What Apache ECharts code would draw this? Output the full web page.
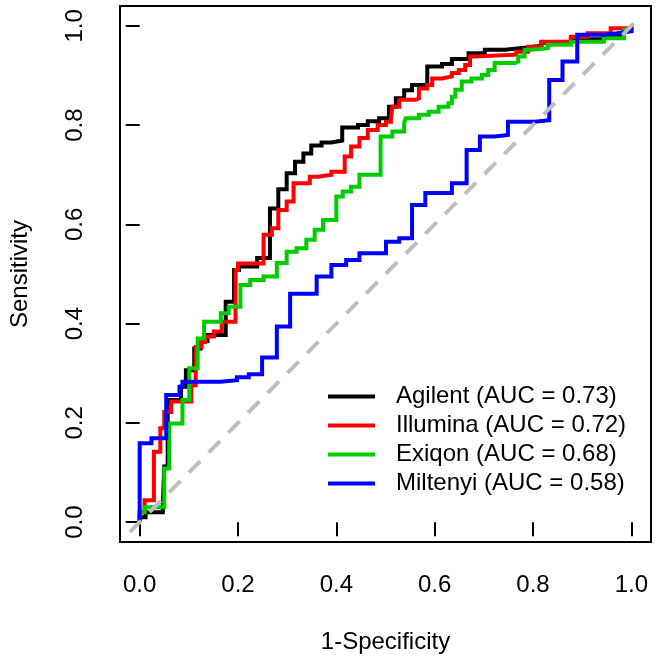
<!DOCTYPE html>
<html>
<head>
<meta charset="utf-8">
<script src="https://cdn.jsdelivr.net/npm/echarts@6/dist/echarts.min.js"></script>
<style>html,body{margin:0;padding:0;background:#fff}#c{width:658px;height:664px}</style>
</head>
<body>
<div id="c"></div>
<script>
// Tick values
const tickValues = [0, 0.2, 0.4, 0.6, 0.8, 1.0];
// Series names (legend)
const seriesNames = ['Agilent (AUC = 0.73)', 'Illumina (AUC = 0.72)', 'Exiqon (AUC = 0.68)', 'Miltenyi (AUC = 0.58)'];
const seriesColors = ['#000000', '#ff0000', '#00cc00', '#0000ff'];
// ROC step points: [1-specificity where the curve rises, sensitivity reached]
const agilent = [[0,0],[0,0.01],[0.012,0.02],[0.047,0.03],[0.05,0.112],[0.057,0.246],[0.084,0.273],[0.094,0.306],[0.111,0.35],[0.124,0.365],[0.138,0.377],[0.175,0.444],[0.192,0.508],[0.202,0.515],[0.239,0.532],[0.265,0.632],[0.282,0.671],[0.299,0.703],[0.316,0.726],[0.333,0.743],[0.349,0.759],[0.37,0.765],[0.39,0.769],[0.412,0.795],[0.444,0.80],[0.464,0.808],[0.487,0.814],[0.507,0.837],[0.521,0.854],[0.538,0.87],[0.554,0.881],[0.585,0.918],[0.615,0.923],[0.635,0.933],[0.669,0.945],[0.702,0.952],[0.743,0.956],[0.783,0.96],[0.817,0.966],[0.877,0.973],[0.944,0.978],[0.984,0.992],[1,1]];
const illumina = [[0,0],[0,0.02],[0.01,0.044],[0.029,0.142],[0.042,0.189],[0.05,0.222],[0.064,0.243],[0.105,0.276],[0.114,0.353],[0.126,0.363],[0.133,0.374],[0.151,0.384],[0.167,0.404],[0.195,0.508],[0.2,0.521],[0.252,0.579],[0.269,0.592],[0.282,0.629],[0.299,0.646],[0.313,0.683],[0.346,0.696],[0.363,0.70],[0.39,0.706],[0.417,0.737],[0.43,0.757],[0.447,0.774],[0.464,0.79],[0.484,0.80],[0.501,0.807],[0.511,0.814],[0.514,0.837],[0.528,0.851],[0.561,0.854],[0.568,0.874],[0.585,0.881],[0.595,0.894],[0.615,0.898],[0.635,0.905],[0.649,0.911],[0.662,0.921],[0.672,0.938],[0.682,0.942],[0.766,0.948],[0.79,0.958],[0.817,0.968],[0.877,0.978],[0.911,0.985],[0.958,0.995],[1,1]];
const exiqon = [[0,0],[0,0.02],[0.01,0.03],[0.05,0.108],[0.06,0.199],[0.087,0.246],[0.101,0.31],[0.118,0.37],[0.131,0.404],[0.165,0.421],[0.181,0.434],[0.205,0.478],[0.225,0.488],[0.252,0.495],[0.279,0.522],[0.299,0.545],[0.319,0.552],[0.339,0.569],[0.356,0.589],[0.373,0.609],[0.40,0.656],[0.413,0.666],[0.43,0.676],[0.447,0.70],[0.49,0.777],[0.514,0.787],[0.538,0.804],[0.541,0.814],[0.568,0.821],[0.588,0.827],[0.608,0.837],[0.628,0.844],[0.635,0.857],[0.642,0.871],[0.655,0.888],[0.675,0.894],[0.696,0.901],[0.709,0.911],[0.722,0.925],[0.763,0.928],[0.77,0.938],[0.783,0.952],[0.796,0.955],[0.83,0.962],[0.877,0.968],[0.944,0.975],[0.985,0.992],[1,1]];
const miltenyi = [[0,0],[0,0.159],[0.024,0.169],[0.054,0.256],[0.081,0.273],[0.087,0.283],[0.165,0.286],[0.198,0.292],[0.222,0.298],[0.249,0.332],[0.279,0.394],[0.306,0.46],[0.36,0.495],[0.39,0.518],[0.42,0.528],[0.447,0.542],[0.501,0.565],[0.528,0.572],[0.554,0.639],[0.581,0.663],[0.635,0.683],[0.665,0.75],[0.692,0.777],[0.722,0.78],[0.749,0.807],[0.803,0.81],[0.833,0.891],[0.86,0.928],[0.89,0.982],[0.944,0.985],[0.971,0.989],[1,0.995],[1,1]];
const diagonal = [[-0.02,-0.02],[1.01,1.01]];

// Turn "rise" points into staircase vertices (right, then up)
function stairs(pts) {
  const out = [pts[0]];
  for (let i = 1; i < pts.length; i++) {
    out.push([pts[i][0], pts[i - 1][1]]);
    out.push(pts[i]);
  }
  return out;
}

const FONT = 'Liberation Sans, Arial, Helvetica, sans-serif';
const FS = 24;
const curves = [agilent, illumina, exiqon, miltenyi];
const series = curves.map((d, i) => ({
  name: seriesNames[i], type: 'line', data: stairs(d), showSymbol: false, symbol: 'none',
  lineStyle: { color: seriesColors[i], width: 4, join: 'miter' }, itemStyle: { color: seriesColors[i] },
  z: 2 + i, silent: true
}));
series.push({
  name: 'diag', type: 'line', data: diagonal, showSymbol: false, symbol: 'none', z: 10,
  lineStyle: { color: '#bebebe', width: 4, type: [16, 12], cap: 'butt' }, silent: true
});

const chart = echarts.init(document.getElementById('c'), null, { renderer: 'canvas' });
chart.setOption({
  animation: false,
  backgroundColor: '#fff',
  grid: { left: 115, right: 7, top: 6, bottom: 122, show: true, borderColor: '#000', borderWidth: 2, backgroundColor: 'transparent' },
  legend: {
    data: seriesNames, orient: 'vertical', left: 323, top: 377, itemGap: 0,
    icon: 'rect', itemWidth: 47, itemHeight: 4, selectedMode: false,
    textStyle: { fontFamily: FONT, fontSize: FS, color: '#000', lineHeight: 29, padding: [0, 0, 0, 16] }
  },
  xAxis: {
    type: 'value', min: -0.04, max: 1.04,
    name: '1-Specificity', nameLocation: 'middle', nameGap: 88,
    nameTextStyle: { fontFamily: FONT, fontSize: FS, color: '#000' },
    axisLine: { show: false }, splitLine: { show: false },
    axisTick: { show: true, customValues: tickValues, length: 14, lineStyle: { color: '#000', width: 2 } },
    axisLabel: { customValues: tickValues, formatter: v => v.toFixed(1), fontFamily: FONT, fontSize: FS, color: '#000', margin: 31 }
  },
  yAxis: {
    type: 'value', min: -0.04, max: 1.04,
    name: 'Sensitivity', nameLocation: 'middle', nameGap: 88,
    nameTextStyle: { fontFamily: FONT, fontSize: FS, color: '#000' },
    axisLine: { show: false }, splitLine: { show: false },
    axisTick: { show: true, customValues: tickValues, length: 14, lineStyle: { color: '#000', width: 2 } },
    axisLabel: { customValues: tickValues, formatter: v => v.toFixed(1), fontFamily: FONT, fontSize: FS, color: '#000', margin: 33, rotate: 90 }
  },
  series: series
});
</script>
</body>
</html>
